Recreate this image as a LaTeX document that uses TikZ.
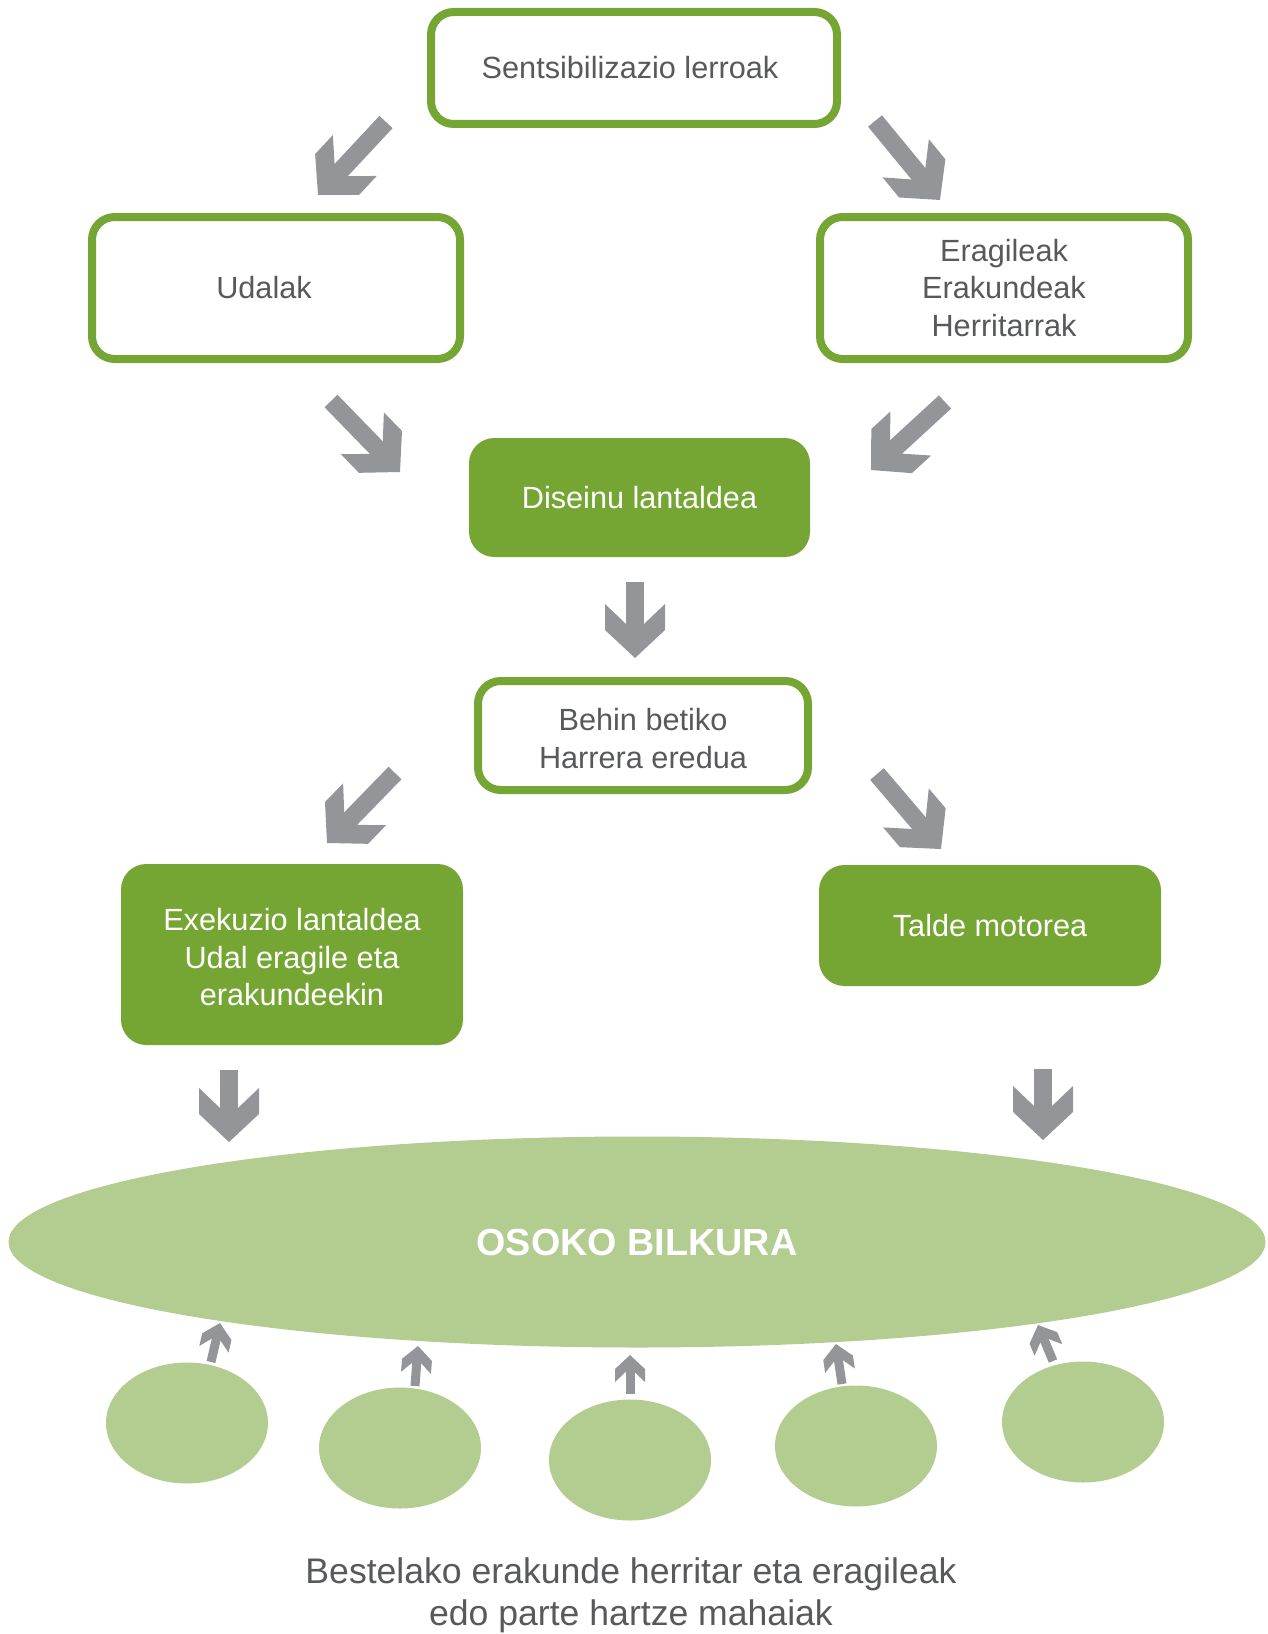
\documentclass[tikz,border=0pt]{standalone}
\usepackage{fontspec}
\setmainfont{Liberation Sans}
\usepackage{tikz}
\usetikzlibrary{shapes.geometric,calc}

\definecolor{leafgreen}{HTML}{75A634}
\definecolor{palegreen}{HTML}{B3CC8F}
\definecolor{arrowgray}{HTML}{939598}
\definecolor{textgray}{HTML}{58595B}

\tikzset{
  boxtext/.style={align=center,inner sep=0pt,font=\fontsize{23}{28}\selectfont},
  outlinebox/.style={boxtext,draw=leafgreen,line width=6pt,fill=white,
    rounded corners=17pt,text=textgray},
  filledbox/.style={boxtext,fill=leafgreen,rounded corners=19pt,text=white},
  blob/.style={ellipse,fill=palegreen,inner sep=0pt,
    minimum width=121.5pt,minimum height=90.75pt},
  pics/arrowhead/.style={code={
    \fill[arrowgray] (0,0) -- (-28,30) -- (-54,30) -- (-34,9) -- (-34,-9)
      -- (-54,-30) -- (-28,-30) -- cycle;}}
}

% block arrow from #2 to #3, #1 = size
\newcommand\grayarrow[3][1]{%
  \draw[arrowgray,line width=#1*13.5pt] (#2) -- ($(#3)!#1*24pt!(#2)$);
  \path let \p1=(#2), \p2=(#3), \n1={atan2(\y2-\y1,\x2-\x1)} in
    pic[rotate=\n1,scale=#1] at (#3) {arrowhead};
}

\begin{document}
\begin{tikzpicture}[x=0.75pt,y=-0.75pt]
  \useasboundingbox (0,0) rectangle (1267,1634);

  \node[outlinebox,minimum width=304.5pt,minimum height=84pt] (sens)
    at (634,68) {Sentsibilizazio lerroak\kern6pt};
  \node[outlinebox,minimum width=276pt,minimum height=106.5pt] (udal)
    at (276,288) {Udalak\kern18pt};
  \node[outlinebox,minimum width=276pt,minimum height=106.5pt] (erag)
    at (1004,288) {Eragileak\\Erakundeak\\Herritarrak};
  \node[filledbox,minimum width=255.75pt,minimum height=89.25pt] (dise)
    at (639.5,497.5) {Diseinu lantaldea};
  \node[outlinebox,minimum width=247.5pt,minimum height=81.75pt] (behin)
    at (643,735.5) {\rule{0pt}{21pt}Behin betiko\\Harrera eredua};
  \node[filledbox,minimum width=256.5pt,minimum height=135.75pt] (exek)
    at (292,954.5) {\rule{0pt}{20.5pt}Exekuzio lantaldea\\Udal eragile eta\\erakundeekin};
  \node[filledbox,minimum width=256.5pt,minimum height=90.75pt] (talde)
    at (990,925.5) {Talde motorea};

  \node[ellipse,fill=palegreen,inner sep=0pt,minimum width=942.75pt,
    minimum height=158.25pt,text=white,
    font=\bfseries\fontsize{28.3}{33}\selectfont] (osoko)
    at (637,1242) {OSOKO BILKURA};

  \foreach \k/\cx/\cy in {1/187/1423,2/400/1448,3/630/1460,4/856/1446,5/1083/1422}
    \node[blob] (mahai\k) at (\cx,\cy) {};

  \node[align=center,text=textgray,inner sep=0pt,
    font=\fontsize{26.7}{31.5}\selectfont] (bestelako) at (631,1595)
    {Bestelako erakunde herritar eta eragileak\\edo parte hartze mahaiak};

  % big arrows
  \foreach \k/\ax/\ay/\bx/\by in {1/386/122/318/195, 2/875/121/940/200,
      3/331/401/400/472, 4/945/402/871/470, 5/635/582/635/658,
      6/395/773/327/843, 7/877/774/941/849, 8/229/1070/229/1142,
      9/1043/1069/1043/1140} {
    \coordinate (a\k s) at (\ax,\ay);
    \coordinate (a\k e) at (\bx,\by);
    \grayarrow{a\k s}{a\k e}
  }

  % small arrows
  \foreach \k/\ax/\ay/\bx/\by in {1/211/1362/220/1323, 2/415/1386/418/1346,
      3/630/1394/630/1355, 4/842/1384/836/1344, 5/1053/1361/1038/1325} {
    \coordinate (b\k s) at (\ax,\ay);
    \coordinate (b\k e) at (\bx,\by);
    \grayarrow[0.5]{b\k s}{b\k e}
  }
\end{tikzpicture}
\end{document}
